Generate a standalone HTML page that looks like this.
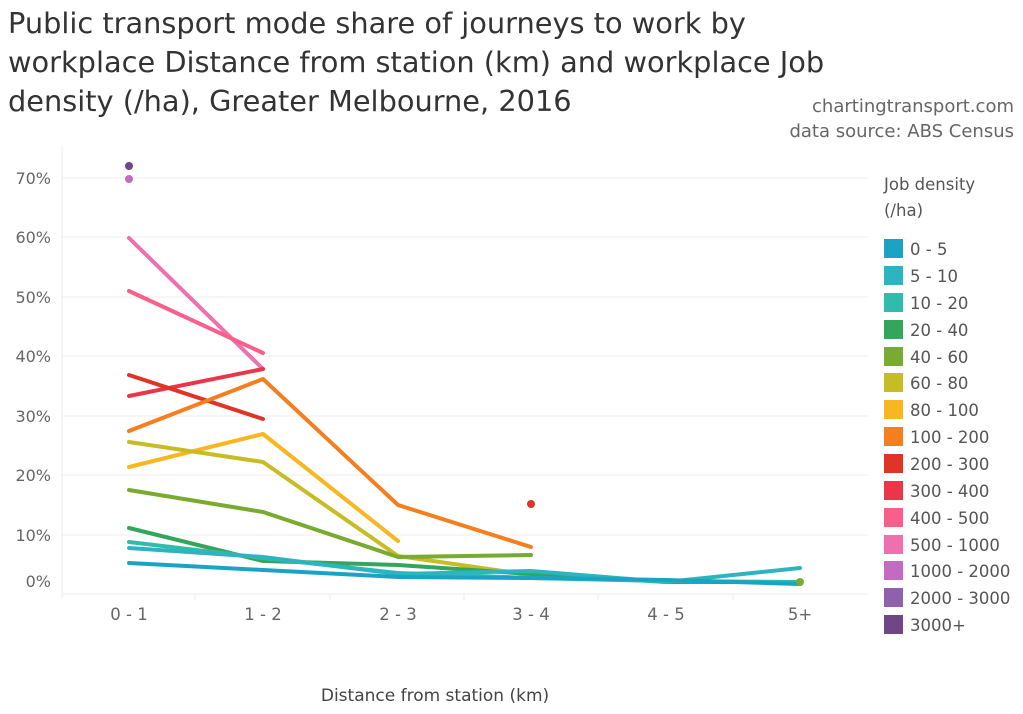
<!DOCTYPE html>
<html><head><meta charset="utf-8"><style>
body{margin:0;background:#fff;width:1023px;height:710px;overflow:hidden;font-family:"DejaVu Sans","Liberation Sans",sans-serif}
</style></head><body>
<svg width="1023" height="710" xmlns="http://www.w3.org/2000/svg" font-family="DejaVu Sans, Liberation Sans, sans-serif">
<text x="8" y="33" font-size="28.8" fill="#333">Public transport mode share of journeys to work by</text>
<text x="8" y="72" font-size="28.8" fill="#333">workplace Distance from station (km) and workplace Job</text>
<text x="8" y="111" font-size="28.8" fill="#333">density (/ha), Greater Melbourne, 2016</text>
<text x="1014" y="112" font-size="18" fill="#666" text-anchor="end">chartingtransport.com</text>
<text x="1014" y="137" font-size="18" fill="#666" text-anchor="end">data source: ABS Census</text>
<g stroke="#eee" stroke-width="1">
<line x1="62" x2="868" y1="178" y2="178"/><line x1="62" x2="868" y1="237" y2="237"/>
<line x1="62" x2="868" y1="297" y2="297"/><line x1="62" x2="868" y1="356" y2="356"/>
<line x1="62" x2="868" y1="416" y2="416"/><line x1="62" x2="868" y1="475" y2="475"/>
<line x1="62" x2="868" y1="535" y2="535"/><line x1="62" x2="868" y1="594" y2="594"/>
<line x1="62" x2="62" y1="145" y2="598"/>
<line x1="195" x2="195" y1="594" y2="600"/><line x1="330" x2="330" y1="594" y2="600"/>
<line x1="464" x2="464" y1="594" y2="600"/><line x1="598" x2="598" y1="594" y2="600"/>
<line x1="733" x2="733" y1="594" y2="600"/>
</g>
<g font-size="16" fill="#666" text-anchor="end">
<text x="51" y="184">70%</text><text x="51" y="243">60%</text><text x="51" y="303">50%</text>
<text x="51" y="362">40%</text><text x="51" y="422">30%</text><text x="51" y="481">20%</text>
<text x="51" y="541">10%</text><text x="51" y="587">0%</text>
</g>
<g font-size="16.5" fill="#666" text-anchor="middle">
<text x="129" y="620">0 - 1</text><text x="263" y="620">1 - 2</text><text x="398" y="620">2 - 3</text>
<text x="531" y="620">3 - 4</text><text x="666" y="620">4 - 5</text><text x="800" y="620">5+</text>
</g>
<text x="435" y="701" font-size="17" fill="#444" text-anchor="middle">Distance from station (km)</text>
<g fill="none" stroke-width="4" stroke-linejoin="round" stroke-linecap="round">
<polyline stroke="#ef70ad" points="129,238 263,369"/>
<polyline stroke="#f8608b" points="129,291 263,353"/>
<polyline stroke="#eb364a" points="129,396 263,369"/>
<polyline stroke="#e03426" points="129,375 263,419"/>
<polyline stroke="#f57f1f" points="129,431 263,379 398,505 531,547"/>
<polyline stroke="#f8b620" points="129,467 263,434 398,541"/>
<polyline stroke="#c8bc25" points="129,442 263,462 398,556 531,575"/>
<polyline stroke="#78ab2f" points="129,490 263,512 398,557 531,555"/>
<polyline stroke="#33a65c" points="129,528 263,561 398,565 531,574 666,582 800,582"/>
<polyline stroke="#30bcad" points="129,542 263,558 398,573 531,578 666,581 800,582"/>
<polyline stroke="#2cb5c0" points="129,548 263,557 398,574 531,571 666,582 800,568"/>
<polyline stroke="#1ba3c6" points="129,563 263,570 398,577 531,578 666,580 800,584"/>
</g>
<circle cx="129" cy="166" r="4" fill="#6f4686"/>
<circle cx="129" cy="179" r="4" fill="#c36bc2"/>
<circle cx="531" cy="504" r="4" fill="#e03426"/>
<circle cx="800" cy="582" r="4" fill="#78ab2f"/>
<text x="884" y="190" font-size="16.5" fill="#555">Job density</text>
<text x="884" y="216" font-size="16.5" fill="#555">(/ha)</text>
<g font-size="16.5" fill="#555">
<rect x="884" y="239" width="19" height="19" fill="#1ba3c6"/><text x="910" y="255">0 - 5</text>
<rect x="884" y="266" width="19" height="19" fill="#2cb5c0"/><text x="910" y="282">5 - 10</text>
<rect x="884" y="293" width="19" height="19" fill="#30bcad"/><text x="910" y="309">10 - 20</text>
<rect x="884" y="320" width="19" height="19" fill="#33a65c"/><text x="910" y="336">20 - 40</text>
<rect x="884" y="347" width="19" height="19" fill="#78ab2f"/><text x="910" y="363">40 - 60</text>
<rect x="884" y="373" width="19" height="19" fill="#c8bc25"/><text x="910" y="389">60 - 80</text>
<rect x="884" y="400" width="19" height="19" fill="#f8b620"/><text x="910" y="416">80 - 100</text>
<rect x="884" y="427" width="19" height="19" fill="#f57f1f"/><text x="910" y="443">100 - 200</text>
<rect x="884" y="454" width="19" height="19" fill="#e03426"/><text x="910" y="470">200 - 300</text>
<rect x="884" y="481" width="19" height="19" fill="#eb364a"/><text x="910" y="497">300 - 400</text>
<rect x="884" y="508" width="19" height="19" fill="#f8608b"/><text x="910" y="524">400 - 500</text>
<rect x="884" y="535" width="19" height="19" fill="#ef70ad"/><text x="910" y="551">500 - 1000</text>
<rect x="884" y="561" width="19" height="19" fill="#c36bc2"/><text x="910" y="577">1000 - 2000</text>
<rect x="884" y="588" width="19" height="19" fill="#8f60ab"/><text x="910" y="604">2000 - 3000</text>
<rect x="884" y="615" width="19" height="19" fill="#6f4686"/><text x="910" y="631">3000+</text>
</g>
</svg>
</body></html>
